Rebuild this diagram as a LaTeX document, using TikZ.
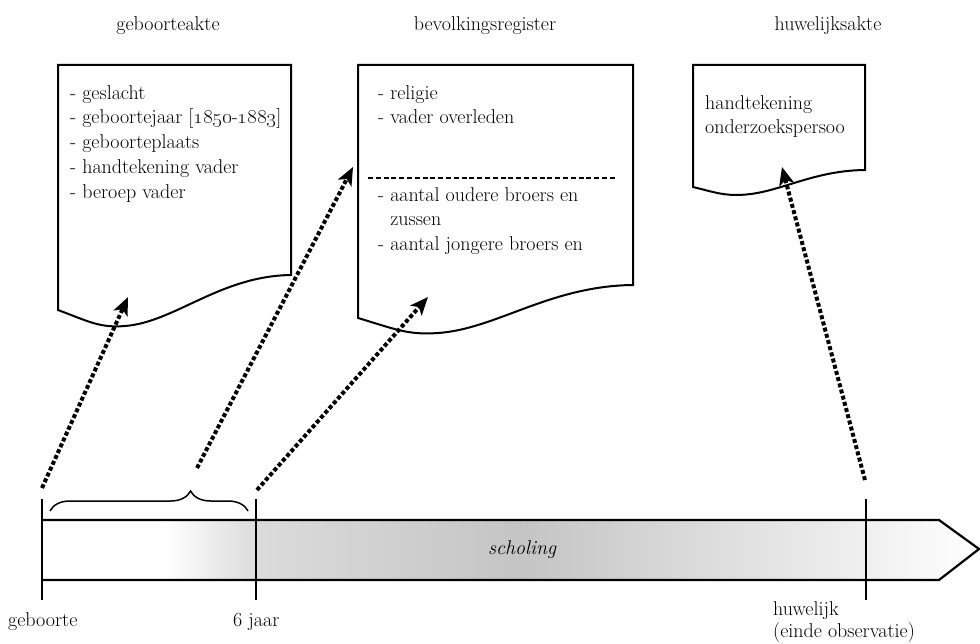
\documentclass[tikz,border=0pt]{standalone}
\usetikzlibrary{arrows.meta,decorations.pathreplacing}

\definecolor{barlight}{gray}{0.86}
\definecolor{bardark}{gray}{0.77}
\definecolor{barfade}{gray}{0.94}

% sheet with a wavy bottom: x0, x1, top, y at right bottom, wave height
\newcommand{\docsheet}[5]{%
  \draw[docline] (#1,#3) -- (#2,#3) -- (#2,#4)
    .. controls ({#1+0.695*(#2-#1)},{#4+0.029*#5}) and ({#1+0.502*(#2-#1)},{#4+1.343*#5}) .. ({#1+0.288*(#2-#1)},{#4+1.457*#5})
    .. controls ({#1+0.18*(#2-#1)},{#4+1.514*#5}) and ({#1+0.137*(#2-#1)},{#4+1.343*#5}) .. (#1,{#4+#5}) -- cycle;}

\begin{document}
\begin{tikzpicture}[x=1pt,y=-1pt,>={Stealth[length=18pt,width=15pt,inset=4.5pt]},
  every node/.style={inner sep=0pt,font=\fontsize{20}{24.8}\selectfont},
  docline/.style={line width=2pt,fill=white},
  tick/.style={line width=2pt},
  dotarrow/.style={->,line width=4pt,dash pattern=on 4pt off 2.4pt},
  doctext/.style={anchor=north west,align=left}]

  \useasboundingbox (0,0) rectangle (980,644);

  % timeline bar
  \begin{scope}
    \clip (42,520) -- (939,520) -- (979,549) -- (939,580) -- (42,580) -- cycle;
    \shade[left color=white,right color=barlight] (165,519) rectangle (256,581);
    \shade[left color=barlight,right color=bardark] (256,519) rectangle (520,581);
    \shade[left color=bardark,right color=barfade] (520,519) rectangle (866,581);
    \shade[left color=barfade,right color=white] (866,519) rectangle (980,581);
  \end{scope}
  \draw[line width=2.2pt,line join=miter] (42,520) -- (939,520) -- (979,549) -- (939,580) -- (42,580);
  \node[font=\fontsize{20}{24.8}\selectfont\itshape,anchor=base] (scholing) at (522,554) {scholing};

  % ticks
  \draw[tick] (42,499) -- (42,600);
  \draw[tick] (256,499) -- (256,600);
  \draw[tick] (866,499) -- (866,600);
  \node[anchor=base west] (geboorte) at (8,626) {geboorte};
  \node[anchor=base west] (zesjaar) at (233,626) {6 jaar};
  \node[anchor=base west,align=left,font=\fontsize{20}{22}\selectfont] (huwelijk) at (773,637) {huwelijk\\(einde observatie)};

  % brace over the first six years
  \draw[line width=1.5pt,decorate,decoration={brace,amplitude=20pt,aspect=0.71}] (50,511) -- (248,511);

  % documents
  \docsheet{58}{291}{65}{275}{35}
  \docsheet{358}{633}{65}{285}{33}
  \docsheet{693}{865}{65}{170}{17}
  \draw[line width=1.4pt,dash pattern=on 5pt off 2.8pt] (368,178) -- (617,178);

  \node[anchor=base] (akte) at (168,31) {geboorteakte};
  \node[anchor=base] (register) at (485,31) {bevolkingsregister};
  \node[anchor=base] (huwakte) at (828,31) {huwelijksakte};

  \node[doctext] (aktetext) at (70,85) {- geslacht\\- geboortejaar [\oldstylenums{1850}-\oldstylenums{1883}]\\- geboorteplaats\\- handtekening vader\\- beroep vader};
  \node[doctext] (regtop) at (378,85) {- religie\\- vader overleden};
  \node[doctext] (regbot) at (378,187) {- aantal oudere broers en\\\phantom{- }zussen\\- aantal jongere broers en};
  \node[doctext] (huwtext) at (705,95) {handtekening\\onderzoekspersoo};

  % links from the timeline to the sources
  \coordinate (gbstart) at (42,488);
  \coordinate (brstart) at (197,468);
  \coordinate (sixstart) at (257,490);
  \coordinate (hwstart) at (865,480);
  \coordinate (aktetgt) at (128,297);
  \coordinate (regtgt) at (353,167);
  \coordinate (regtgtb) at (428,297);
  \coordinate (huwtgt) at (782,167);

  \draw[dotarrow] (gbstart) -- (aktetgt);
  \draw[dotarrow] (brstart) -- (regtgt);
  \draw[dotarrow] (sixstart) -- (regtgtb);
  \draw[dotarrow] (hwstart) -- (huwtgt);

\end{tikzpicture}
\end{document}
